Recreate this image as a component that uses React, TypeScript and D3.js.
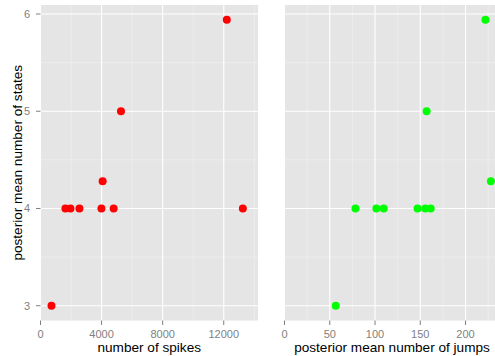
import React from "react";
import * as d3 from "d3";

// one row per recording: posterior mean number of states, spikes, jumps
const states = [3, 4, 4, 4, 4, 4.28, 4, 5, 5.94, 4];
const spikes = [720, 1630, 1960, 2550, 3990, 4070, 4790, 5270, 12200, 13250];
const jumps = [56.6, 78.4, 101.5, 109.6, 147, 228, 155.6, 157, 222, 161.5];

const yTicks = [3, 4, 5, 6];
const yMinor = [3.5, 4.5, 5.5];
const spikeTicks = [0, 4000, 8000, 12000];
const spikeMinor = [2000, 6000, 10000, 14000];
const jumpTicks = [0, 50, 100, 150, 200];
const jumpMinor = [25, 75, 125, 175, 225];

const W = 495;
const H = 356;
const top = 5;
const bottom = 320.5;
const font = "'Liberation Sans', Arial, Helvetica, sans-serif";

const y = d3.scaleLinear().domain([2.848, 6.0926]).range([bottom, top]);

type PanelProps = {
  xs: number[];
  x: d3.ScaleLinear<number, number>;
  ticks: number[];
  minor: number[];
  color: string;
  title: string;
  showY: boolean;
};

const Panel = ({ xs, x, ticks, minor, color, title, showY }: PanelProps) => {
  const [x0, x1] = x.range();
  return (
    <g>
      <rect x={x0} y={top} width={x1 - x0} height={bottom - top} fill="#E5E5E5" />
      {minor.map(t => (
        <line key={"mx" + t} x1={x(t)} x2={x(t)} y1={top} y2={bottom} stroke="#F2F2F2" strokeWidth={0.6} />
      ))}
      {yMinor.map(t => (
        <line key={"my" + t} x1={x0} x2={x1} y1={y(t)} y2={y(t)} stroke="#F2F2F2" strokeWidth={0.6} />
      ))}
      {ticks.map(t => (
        <line key={"gx" + t} x1={x(t)} x2={x(t)} y1={top} y2={bottom} stroke="#fff" strokeWidth={1.1} />
      ))}
      {yTicks.map(t => (
        <line key={"gy" + t} x1={x0} x2={x1} y1={y(t)} y2={y(t)} stroke="#fff" strokeWidth={1.1} />
      ))}
      {xs.map((v, i) => (
        <circle key={i} cx={x(v)} cy={y(states[i])} r={4} fill={color} />
      ))}
      {ticks.map(t => (
        <g key={"tx" + t}>
          <line x1={x(t)} x2={x(t)} y1={bottom} y2={bottom + 4.5} stroke="#7F7F7F" strokeWidth={1} />
          <text x={x(t)} y={337.5} textAnchor="middle" fontSize={11} fill="#7F7F7F" fontFamily={font}>
            {t}
          </text>
        </g>
      ))}
      {showY &&
        yTicks.map(t => (
          <g key={"ty" + t}>
            <line x1={x0 - 4.5} x2={x0} y1={y(t)} y2={y(t)} stroke="#7F7F7F" strokeWidth={1} />
            <text x={30} y={y(t)} dy="0.36em" textAnchor="end" fontSize={11} fill="#7F7F7F" fontFamily={font}>
              {t}
            </text>
          </g>
        ))}
      <text x={(x0 + x1) / 2} y={351.5} textAnchor="middle" fontSize={13.6} fill="#000" fontFamily={font}>
        {title}
      </text>
    </g>
  );
};

const App = () => {
  const xSpikes = d3.scaleLinear().domain([0, 14243]).range([40.5, 258]);
  const xJumps = d3.scaleLinear().domain([0, 237.5]).range([284.5, 499.5]);

  return (
    <svg
      width={W}
      height={H}
      style={{ position: "absolute", left: 0, top: 0, background: "#fff" }}
    >
      <Panel
        xs={spikes}
        x={xSpikes}
        ticks={spikeTicks}
        minor={spikeMinor}
        color="#FF0000"
        title="number of spikes"
        showY={true}
      />
      <Panel
        xs={jumps}
        x={xJumps}
        ticks={jumpTicks}
        minor={jumpMinor}
        color="#00FF00"
        title="posterior mean number of jumps"
        showY={false}
      />
      <text
        transform={`translate(21.5, ${(top + bottom) / 2}) rotate(-90)`}
        textAnchor="middle"
        fontSize={13.6}
        fill="#000"
        fontFamily={font}
      >
        posterior mean number of states
      </text>
    </svg>
  );
};

export default App;
